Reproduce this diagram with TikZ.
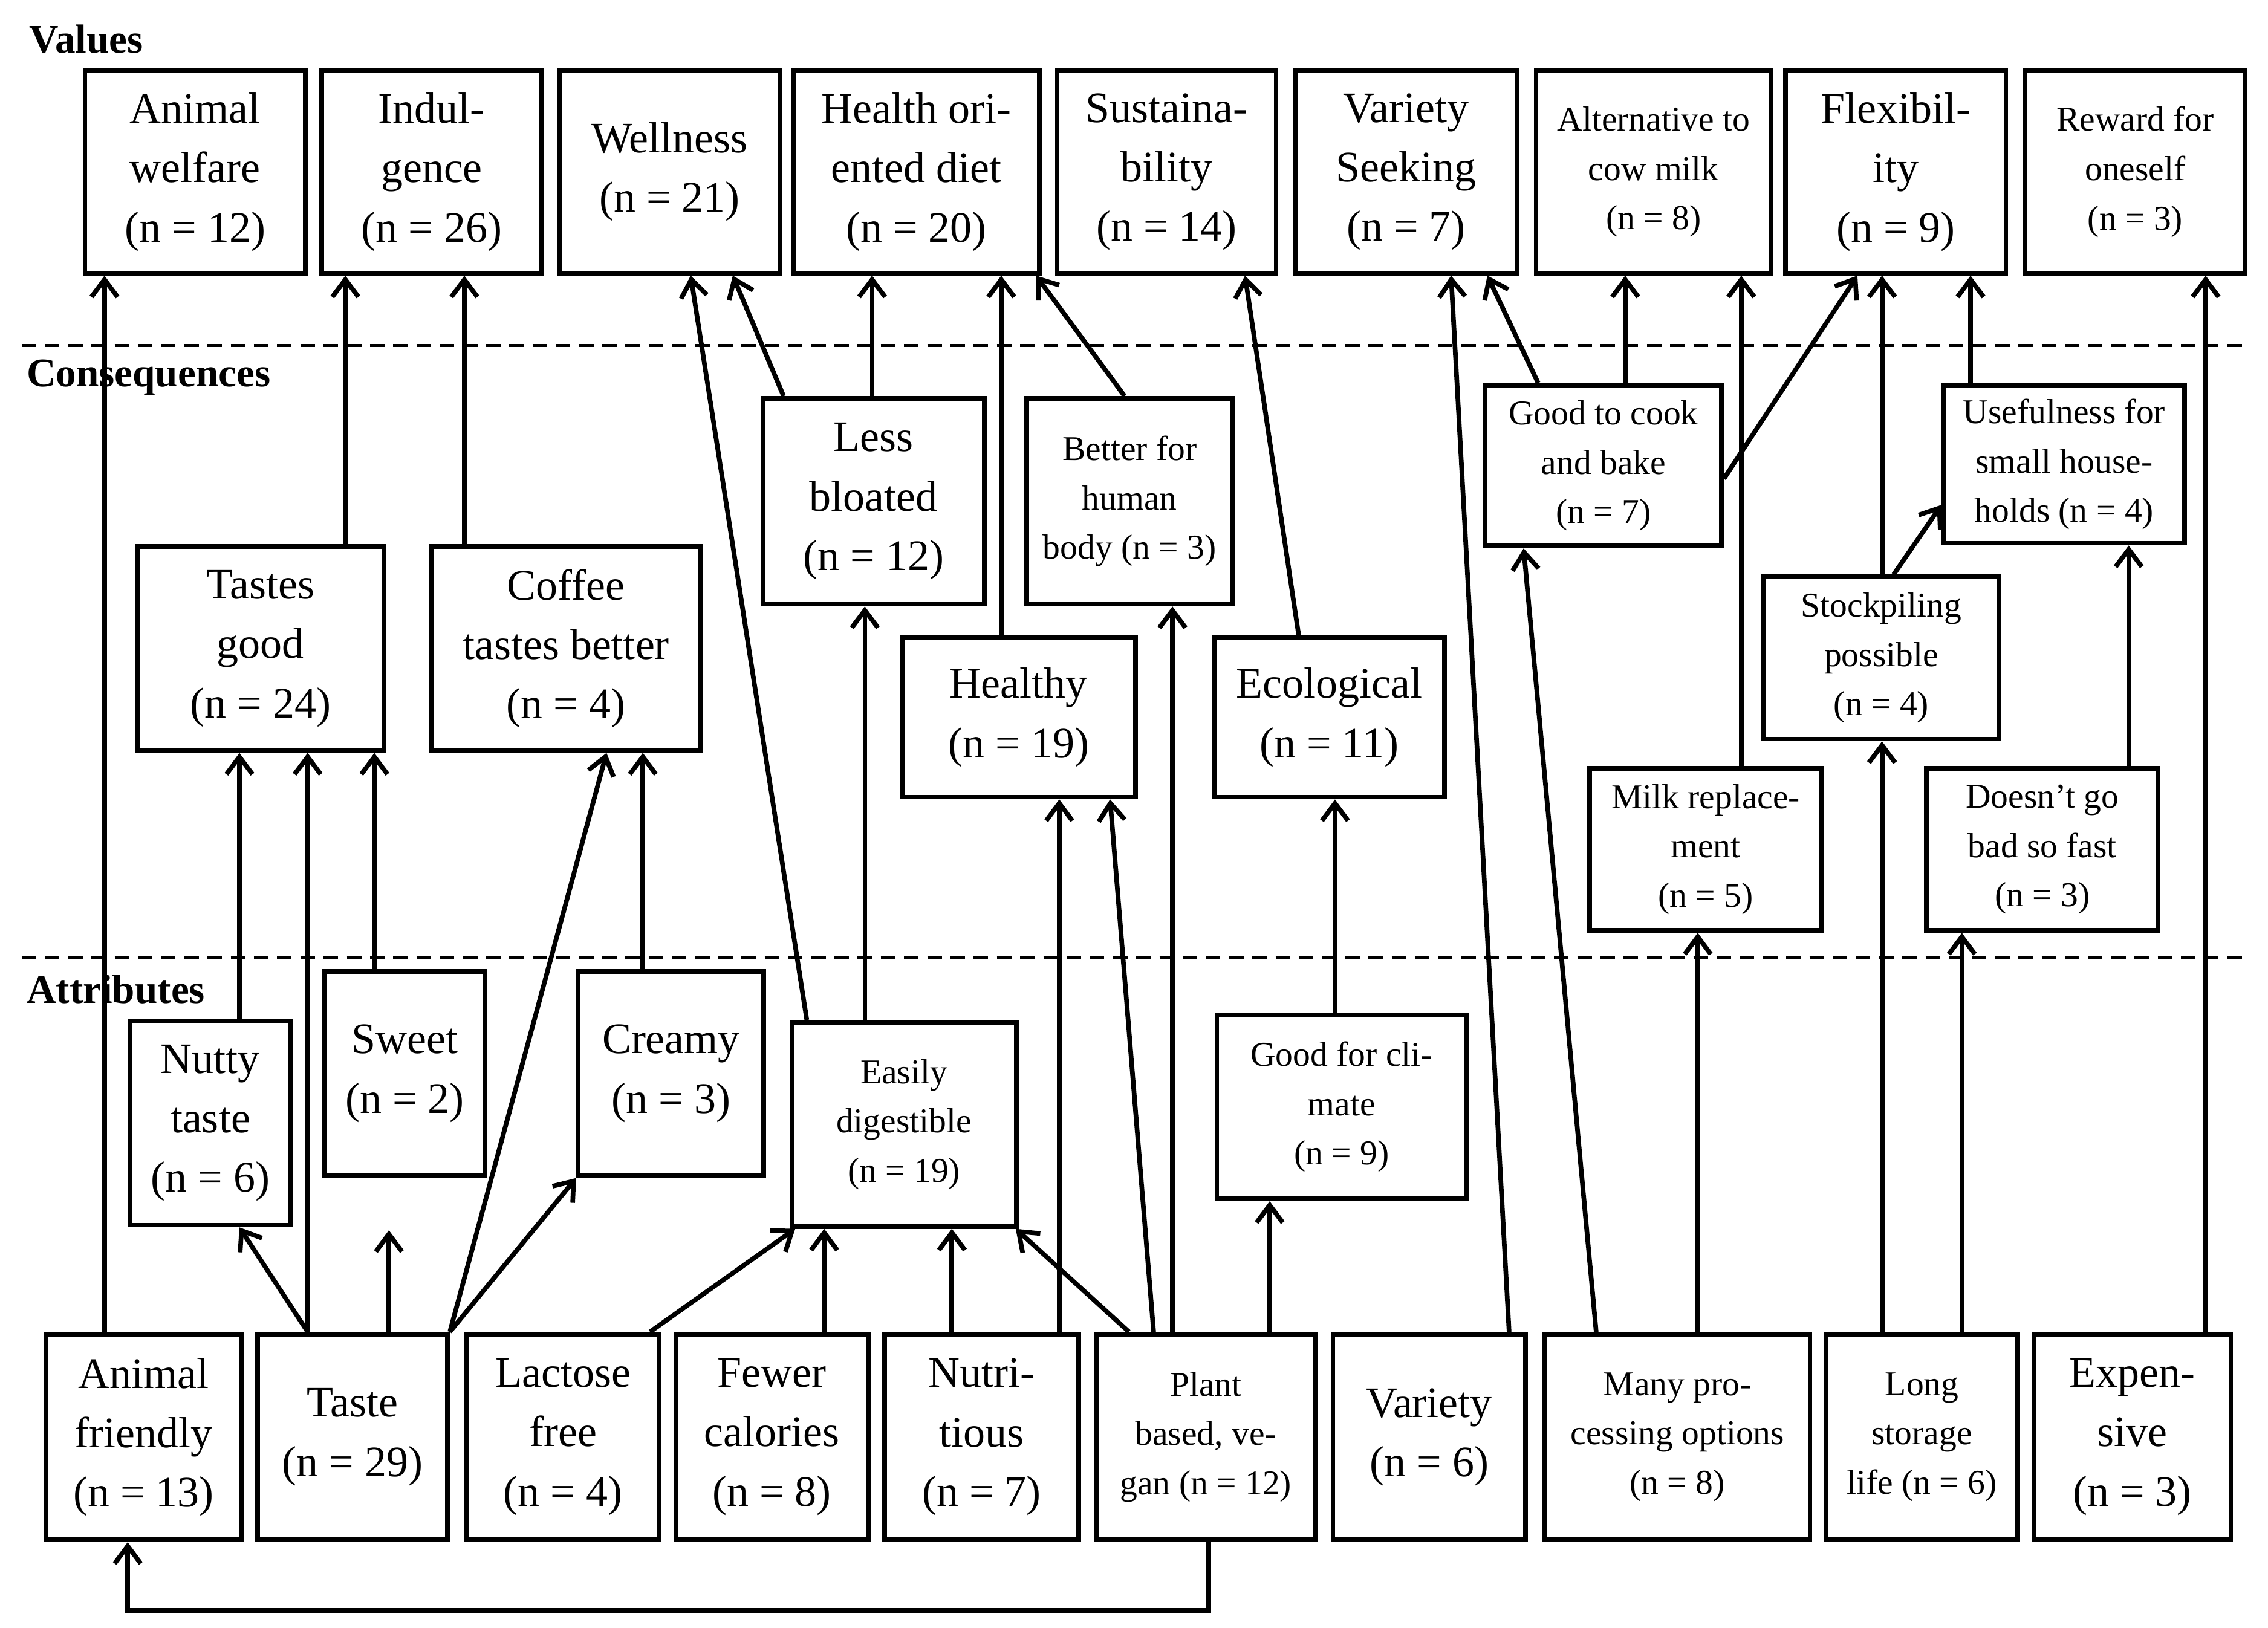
\documentclass[tikz,border=0pt]{standalone}
\usepackage{fontspec}
\setmainfont{Liberation Serif}
\usetikzlibrary{arrows.meta}
\tikzset{
 box/.style={draw,line width=1.6pt,inner sep=0pt,align=center},
 big/.style={font=\fontsize{15}{20.5}\selectfont},
 sml/.style={font=\fontsize{12}{17}\selectfont},
 arr/.style={line width=1.6pt,-{Straight Barb[length=6pt,width=9pt,line width=1.6pt]}},
 lvl/.style={font=\bfseries\fontsize{14}{16}\selectfont,anchor=west,inner sep=0pt},
 sep/.style={line width=1pt,dash pattern=on 5pt off 3pt}
}
\newcommand\bx[7]{\node[box,#7,minimum width={(#4-#2)*0.5pt-1.6pt},minimum height={(#5-#3)*0.5pt-1.6pt}] (#1) at ({(#2+#4)/2},{(#3+#5)/2}) {#6};}
\begin{document}
\begin{tikzpicture}[x=0.5pt,y=-0.5pt]
\useasboundingbox (0,0) rectangle (1563,1122);
\node[lvl] (lv) at (20,27) {Values};
\node[lvl] (lc) at (18,260) {Consequences};
\node[lvl] (la) at (18,682) {Attributes};
\coordinate (d1a) at (15,238); \coordinate (d1b) at (1550,238);
\coordinate (d2a) at (15,660); \coordinate (d2b) at (1550,660);
\draw[sep] (d1a)--(d1b); \draw[sep] (d2a)--(d2b);
% values
\bx{aw}{57}{47}{212}{190}{Animal\\welfare\\(n = 12)}{big}
\bx{ind}{220}{47}{375}{190}{Indul-\\gence\\(n = 26)}{big}
\bx{wel}{384}{47}{539}{190}{Wellness\\(n = 21)}{big}
\bx{hod}{545}{47}{718}{190}{Health ori-\\ented diet\\(n = 20)}{big}
\bx{sus}{727}{47}{881}{190}{Sustaina-\\bility\\(n = 14)}{big}
\bx{vs}{891}{47}{1047}{190}{Variety\\Seeking\\(n = 7)}{big}
\bx{alt}{1057}{47}{1222}{190}{Alternative to\\cow milk\\(n = 8)}{sml}
\bx{flex}{1229}{47}{1384}{190}{Flexibil-\\ity\\(n = 9)}{big}
\bx{rew}{1394}{47}{1549}{190}{Reward for\\oneself\\(n = 3)}{sml}
% consequences
\bx{tg}{93}{375}{266}{519}{Tastes\\good\\(n = 24)}{big}
\bx{ctb}{296}{375}{484}{519}{Coffee\\tastes better\\(n = 4)}{big}
\bx{lb}{524}{273}{680}{418}{Less\\bloated\\(n = 12)}{big}
\bx{bhb}{706}{273}{851}{418}{Better for\\human\\body (n = 3)}{sml}
\bx{hea}{620}{438}{784}{551}{Healthy\\(n = 19)}{big}
\bx{eco}{835}{438}{997}{551}{Ecological\\(n = 11)}{big}
\bx{gcb}{1022}{264}{1188}{378}{Good to cook\\and bake\\(n = 7)}{sml}
\bx{use}{1338}{264}{1507}{376}{Usefulness for\\small house-\\holds (n = 4)}{sml}
\bx{stk}{1214}{396}{1379}{511}{Stockpiling\\possible\\(n = 4)}{sml}
\bx{mr}{1094}{528}{1257}{643}{Milk replace-\\ment\\(n = 5)}{sml}
\bx{dgb}{1326}{528}{1489}{643}{Doesn't go\\bad so fast\\(n = 3)}{sml}
% attributes
\bx{nut}{88}{702}{202}{846}{Nutty\\taste\\(n = 6)}{big}
\bx{swe}{222}{668}{336}{812}{Sweet\\(n = 2)}{big}
\bx{cre}{397}{668}{528}{812}{Creamy\\(n = 3)}{big}
\bx{ed}{544}{703}{702}{847}{Easily\\digestible\\(n = 19)}{sml}
\bx{gfc}{837}{698}{1012}{828}{Good for cli-\\mate\\(n = 9)}{sml}
\bx{af}{30}{918}{168}{1063}{Animal\\friendly\\(n = 13)}{big}
\bx{tas}{176}{918}{310}{1063}{Taste\\(n = 29)}{big}
\bx{lf}{320}{918}{456}{1063}{Lactose\\free\\(n = 4)}{big}
\bx{fc}{464}{918}{600}{1063}{Fewer\\calories\\(n = 8)}{big}
\bx{ntr}{608}{918}{745}{1063}{Nutri-\\tious\\(n = 7)}{big}
\bx{pbv}{754}{918}{908}{1063}{Plant\\based, ve-\\gan (n = 12)}{sml}
\bx{var}{917}{918}{1053}{1063}{Variety\\(n = 6)}{big}
\bx{mpo}{1063}{918}{1249}{1063}{Many pro-\\cessing options\\(n = 8)}{sml}
\bx{lsl}{1257}{918}{1392}{1063}{Long\\storage\\life (n = 6)}{sml}
\bx{exp}{1400}{918}{1539}{1063}{Expen-\\sive\\(n = 3)}{big}
% arrows
\newcommand\ar[4]{\draw[arr] (#1.north -| #2,0) -- (#3.south -| #4,0);}
\ar{af}{72}{aw}{72}
\draw[arr] (tas.north -| 212,0) -- (nut.south -| 165,0);
\ar{tas}{212}{tg}{212}
\draw[arr] (tas.north -| 268,0) -- ([yshift=-18pt]swe.south -| 268,0);
\ar{tas}{310}{ctb}{418}
\draw[arr] (tas.north -| 310,0) -- (cre.south west);
\ar{swe}{258}{tg}{258}
\ar{nut}{165}{tg}{165}
\ar{cre}{443}{ctb}{443}
\ar{tg}{238}{ind}{238}
\ar{ctb}{320}{ind}{320}
\ar{ed}{556}{wel}{476}
\ar{ed}{596}{lb}{596}
\ar{lb}{540}{wel}{505}
\ar{lb}{601}{hod}{601}
\ar{hea}{690}{hod}{690}
\ar{bhb}{775}{hod}{714}
\ar{lf}{448}{ed}{548}
\ar{fc}{568}{ed}{568}
\ar{ntr}{656}{ed}{656}
\ar{ntr}{730}{hea}{730}
\ar{pbv}{778}{ed}{700}
\ar{pbv}{795}{hea}{765}
\ar{pbv}{808}{bhb}{808}
\ar{pbv}{875}{gfc}{875}
\draw[arr] (pbv.south -| 833,0) -- (833,1110) -- (88,1110) -- (af.south -| 88,0);
\ar{gfc}{920}{eco}{920}
\ar{eco}{895}{sus}{858}
\ar{var}{1040}{vs}{1000}
\ar{gcb}{1060}{vs}{1025}
\ar{gcb}{1120}{alt}{1120}
\draw[arr] (gcb.east |- 0,330) -- (flex.south -| 1280,0);
\ar{mpo}{1100}{gcb}{1050}
\ar{mpo}{1170}{mr}{1170}
\ar{mr}{1200}{alt}{1200}
\ar{lsl}{1297}{stk}{1297}
\ar{lsl}{1352}{dgb}{1352}
\ar{stk}{1297}{flex}{1297}
\draw[arr] (stk.north -| 1305,0) -- (use.west |- 0,348);
\ar{dgb}{1467}{use}{1467}
\ar{use}{1358}{flex}{1358}
\ar{exp}{1520}{rew}{1520}
\end{tikzpicture}
\end{document}
